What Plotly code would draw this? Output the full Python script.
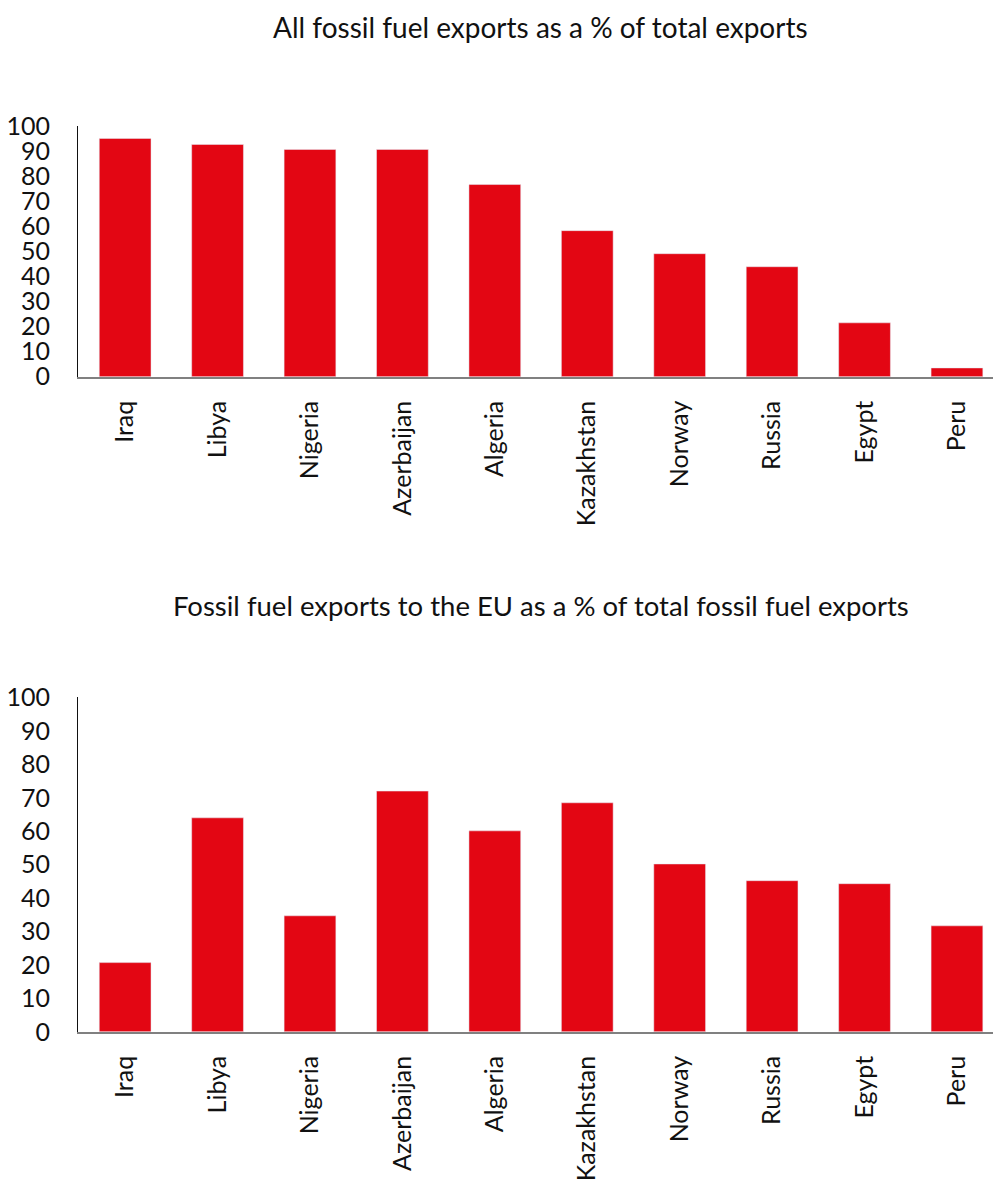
import plotly.graph_objects as go

countries = ["Iraq", "Libya", "Nigeria", "Azerbaijan", "Algeria", "Kazakhstan",
             "Norway", "Russia", "Egypt", "Peru"]
share_total = [95.1, 92.7, 90.7, 90.7, 76.7, 58.3, 49.1, 43.9, 21.5, 3.5]
share_eu = [20.7, 64.0, 34.7, 72.0, 60.1, 68.5, 50.2, 45.2, 44.3, 31.7]
y_ticks = [0, 10, 20, 30, 40, 50, 60, 70, 80, 90, 100]
title_top = "All fossil fuel exports as a % of total exports"
title_bottom = "Fossil fuel exports to the EU as a % of total fossil fuel exports"

RED = "#E30613"
FONT = "Lato"
W, H = 993, 1195


def py(v):
    # pixel row (from top) -> paper fraction
    return 1 - v / H


fig = go.Figure()
fig.add_trace(go.Bar(x=countries, y=share_total, marker_color=RED, width=0.56,
                     xaxis="x", yaxis="y", showlegend=False))
fig.add_trace(go.Bar(x=countries, y=share_eu, marker_color=RED, width=0.56,
                     xaxis="x2", yaxis="y2", showlegend=False))

xr = [-0.51, 9.39]
xdom = [78 / W, 1.0]
common_x = dict(range=xr, domain=xdom, tickangle=-90, showgrid=False,
                showline=True, linecolor="#808080", linewidth=2,
                ticks="", ticklabelstandoff=12,
                tickfont=dict(family=FONT, size=25, color="#111"))
common_y = dict(range=[0, 100], tickvals=y_ticks, showgrid=False,
                showline=True, linecolor="#111", linewidth=1, ticks="",
                zeroline=False, ticklabelstandoff=22,
                tickfont=dict(family=FONT, size=25, color="#111"))

fig.update_layout(
    width=W, height=H, margin=dict(l=0, r=0, t=0, b=0),
    plot_bgcolor="white", paper_bgcolor="white", bargap=0.44,
    xaxis=dict(anchor="y", **common_x),
    yaxis=dict(anchor="x", domain=[py(370), py(113)], **common_y),
    xaxis2=dict(anchor="y2", **common_x),
    yaxis2=dict(anchor="x2", domain=[py(1042), py(699)], **common_y),
    annotations=[
        dict(text=title_top, x=540 / W, y=py(11), xref="paper", yref="paper",
             showarrow=False, xanchor="center", yanchor="middle",
             font=dict(family=FONT, size=28, color="#111")),
        dict(text=title_bottom, x=541 / W, y=py(605), xref="paper", yref="paper",
             showarrow=False, xanchor="center", yanchor="middle",
             font=dict(family=FONT, size=27.5, color="#111")),
    ],
)

fig.write_html("out.html")
